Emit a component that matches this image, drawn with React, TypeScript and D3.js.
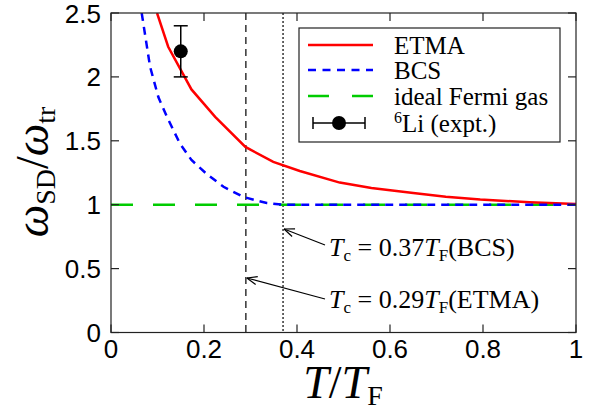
import React from "react";
import * as d3 from "d3";

const etmaT = [0.099, 0.123, 0.173, 0.224, 0.289, 0.349, 0.406, 0.492, 0.56, 0.65, 0.72, 0.794, 0.9, 1.0];
const etmaV = [2.5, 2.236, 1.902, 1.687, 1.452, 1.335, 1.264, 1.173, 1.13, 1.092, 1.062, 1.04, 1.02, 1.005];
const bcsT = [0.066, 0.084, 0.102, 0.12, 0.148, 0.173, 0.206, 0.242, 0.285, 0.335, 0.37, 1.0];
const bcsV = [2.5, 2.08, 1.84, 1.69, 1.48, 1.35, 1.24, 1.14, 1.06, 1.013, 1.0, 1.0];
const idealT = [0, 1];
const idealV = [1, 1];
const exptT = [0.15];
const exptV = [2.2];
const exptErr = [0.2];
const tcETMA = 0.29;
const tcBCS = 0.37;
const xTicks = [0, 0.2, 0.4, 0.6, 0.8, 1];
const xTickLabels = ["0", "0.2", "0.4", "0.6", "0.8", "1"];
const yTicks = [0, 0.5, 1, 1.5, 2, 2.5];
const yTickLabels = ["0", "0.5", "1", "1.5", "2", "2.5"];

const x = d3.scaleLinear().domain([0, 1]).range([111, 576]);
const y = d3.scaleLinear().domain([0, 2.5]).range([332.5, 13]);

const line = d3
  .line<[number, number]>()
  .x((d) => x(d[0]))
  .y((d) => y(d[1]));

const zip = (a: number[], b: number[]) => a.map((v, i) => [v, b[i]] as [number, number]);

const serif = "'Liberation Serif', 'Times New Roman', serif";
const sans = "'Liberation Sans', Arial, sans-serif";

function Arrow({ x1, y1, x2, y2 }: { x1: number; y1: number; x2: number; y2: number }) {
  const ang = Math.atan2(y1 - y2, x1 - x2);
  const L = 11;
  const a = 0.38;
  return (
    <g stroke="black" strokeWidth={1.2} fill="none">
      <line x1={x1} y1={y1} x2={x2} y2={y2} />
      <line x1={x2} y1={y2} x2={x2 + L * Math.cos(ang + a)} y2={y2 + L * Math.sin(ang + a)} />
      <line x1={x2} y1={y2} x2={x2 + L * Math.cos(ang - a)} y2={y2 + L * Math.sin(ang - a)} />
    </g>
  );
}

export default function App() {
  const legRows = [45, 70, 96, 123];
  return (
    <svg width={597} height={414} style={{ position: "absolute", left: 0, top: 0, background: "white" }}>
      <defs>
        <clipPath id="plot">
          <rect x={111} y={13} width={465} height={319.5} />
        </clipPath>
      </defs>
      <line x1={x(tcETMA)} x2={x(tcETMA)} y1={y(2.5)} y2={y(0)} stroke="#333" strokeWidth={1.5} strokeDasharray="7,5" />
      <line x1={x(tcBCS)} x2={x(tcBCS)} y1={y(2.5)} y2={y(0)} stroke="#333" strokeWidth={1.5} strokeDasharray="2,2" />
      <g clipPath="url(#plot)">
        <path d={line(zip(idealT, idealV)) || ""} fill="none" stroke="#00cc00" strokeWidth={2.5} strokeDasharray="22,20" />
        <path d={line(zip(etmaT, etmaV)) || ""} fill="none" stroke="red" strokeWidth={2.5} />
        <path d={line(zip(bcsT, bcsV)) || ""} fill="none" stroke="blue" strokeWidth={2.5} strokeDasharray="8,6" />
      </g>
      {exptT.map((t, i) => (
        <g key={i} stroke="black" strokeWidth={1.5}>
          <line x1={x(t)} x2={x(t)} y1={y(exptV[i] - exptErr[i])} y2={y(exptV[i] + exptErr[i])} />
          <line x1={x(t) - 7} x2={x(t) + 7} y1={y(exptV[i] - exptErr[i])} y2={y(exptV[i] - exptErr[i])} />
          <line x1={x(t) - 7} x2={x(t) + 7} y1={y(exptV[i] + exptErr[i])} y2={y(exptV[i] + exptErr[i])} />
          <circle cx={x(t)} cy={y(exptV[i])} r={7} fill="black" stroke="none" />
        </g>
      ))}
      <rect x={111} y={13} width={465} height={319.5} fill="none" stroke="#222" strokeWidth={1.2} />
      {xTicks.map((t) => (
        <g key={"xt" + t} stroke="#222" strokeWidth={1.2}>
          <line x1={x(t)} x2={x(t)} y1={y(0)} y2={y(0) - 8} />
          <line x1={x(t)} x2={x(t)} y1={y(2.5)} y2={y(2.5) + 8} />
        </g>
      ))}
      {yTicks.map((t) => (
        <g key={"yt" + t} stroke="#222" strokeWidth={1.2}>
          <line x1={111} x2={119} y1={y(t)} y2={y(t)} />
          <line x1={576} x2={568} y1={y(t)} y2={y(t)} />
        </g>
      ))}
      {xTicks.map((t, i) => (
        <text key={"xl" + t} x={x(t)} y={358} textAnchor="middle" fontFamily={sans} fontSize={26}>
          {xTickLabels[i]}
        </text>
      ))}
      {yTicks.map((t, i) => (
        <text key={"yl" + t} x={101} y={y(t) + 9.5} textAnchor="end" fontFamily={sans} fontSize={26}>
          {yTickLabels[i]}
        </text>
      ))}
      <text x={343} y={398} textAnchor="middle" fontFamily={serif} fontSize={46}>
        <tspan fontStyle="italic">T</tspan>
        <tspan>/</tspan>
        <tspan fontStyle="italic">T</tspan>
        <tspan fontSize={28} dy={7}>F</tspan>
      </text>
      <text transform="translate(48,172) rotate(-90)" textAnchor="middle" fontFamily={serif} fontSize={46}>
        <tspan fontStyle="italic">ω</tspan>
        <tspan fontSize={28} dy={7}>SD</tspan>
        <tspan dy={-7}>/</tspan>
        <tspan fontStyle="italic">ω</tspan>
        <tspan fontSize={28} dy={7}>tr</tspan>
      </text>
      <Arrow x1={325} y1={245} x2={x(tcBCS) + 1} y2={229} />
      <Arrow x1={325} y1={299} x2={x(tcETMA) + 1} y2={278} />
      <text x={329} y={256} fontFamily={serif} fontSize={26}>
        <tspan fontStyle="italic">T</tspan>
        <tspan fontSize={17} dy={5}>c</tspan>
        <tspan dy={-5}> = 0.37</tspan>
        <tspan fontStyle="italic">T</tspan>
        <tspan fontSize={17} dy={5}>F</tspan>
        <tspan dy={-5}>(BCS)</tspan>
      </text>
      <text x={329} y={308} fontFamily={serif} fontSize={26}>
        <tspan fontStyle="italic">T</tspan>
        <tspan fontSize={17} dy={5}>c</tspan>
        <tspan dy={-5}> = 0.29</tspan>
        <tspan fontStyle="italic">T</tspan>
        <tspan fontSize={17} dy={5}>F</tspan>
        <tspan dy={-5}>(ETMA)</tspan>
      </text>
      <rect x={299} y={28} width={261} height={114} fill="white" stroke="#222" strokeWidth={1.2} />
      <line x1={308} x2={373} y1={legRows[0]} y2={legRows[0]} stroke="red" strokeWidth={2.5} />
      <line x1={308} x2={373} y1={legRows[1]} y2={legRows[1]} stroke="blue" strokeWidth={2.5} strokeDasharray="8,6.5" />
      <line x1={308} x2={373} y1={legRows[2]} y2={legRows[2]} stroke="#00cc00" strokeWidth={2.5} strokeDasharray="21,23" />
      <g stroke="black" strokeWidth={1.5}>
        <line x1={313} x2={365} y1={legRows[3]} y2={legRows[3]} />
        <line x1={313} x2={313} y1={legRows[3] - 6} y2={legRows[3] + 6} />
        <line x1={365} x2={365} y1={legRows[3] - 6} y2={legRows[3] + 6} />
        <circle cx={339} cy={legRows[3]} r={7} fill="black" stroke="none" />
      </g>
      {["ETMA", "BCS", "ideal Fermi gas"].map((s, i) => (
        <text key={s} x={394} y={legRows[i] + 8.5} fontFamily={serif} fontSize={25}>
          {s}
        </text>
      ))}
      <text x={394} y={legRows[3] + 8.5} fontFamily={serif} fontSize={25}>
        <tspan fontSize={16} dy={-9}>6</tspan>
        <tspan dy={9}>Li (expt.)</tspan>
      </text>
    </svg>
  );
}
